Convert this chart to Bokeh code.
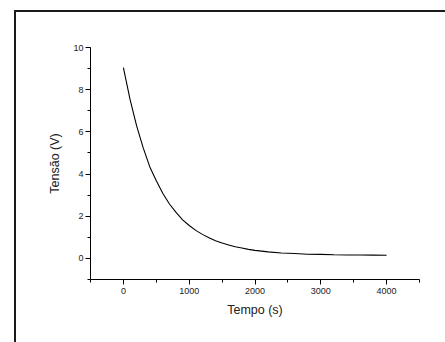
from bokeh.plotting import figure
from bokeh.models import Range1d, SingleIntervalTicker, InlineStyleSheet
from bokeh.embed import file_html
from bokeh.resources import INLINE

# Data
tempo = [0, 100, 200, 300, 400, 500, 600, 700, 800, 900, 1000, 1100, 1200,
         1300, 1400, 1500, 1600, 1700, 1800, 1900, 2000, 2200, 2400, 2600,
         2800, 3000, 3200, 3400, 3600, 3800, 4000]
tensao = [9.05, 7.55, 6.30, 5.25, 4.35, 3.68, 3.08, 2.58, 2.18, 1.83, 1.56,
          1.33, 1.14, 0.98, 0.84, 0.73, 0.64, 0.55, 0.49, 0.43, 0.38, 0.31,
          0.26, 0.23, 0.20, 0.19, 0.17, 0.165, 0.16, 0.155, 0.15]

FONT = "Liberation Sans"

outer_frame = InlineStyleSheet(css="""
:host::after {
  content: "";
  position: absolute;
  left: 14px;
  top: 10px;
  right: 0px;
  bottom: 0px;
  border-left: 2px solid #1a1a1a;
  border-top: 2px solid #1a1a1a;
  pointer-events: none;
  z-index: 10;
}
""")

p = figure(width=445, height=342, output_backend="svg", toolbar_location=None,
           x_range=Range1d(-500, 4500), y_range=Range1d(-1, 10),
           min_border_left=90, min_border_right=26, min_border_top=47,
           min_border_bottom=63)
p.stylesheets = [outer_frame]
p.outline_line_color = None
p.xgrid.visible = False
p.ygrid.visible = False
p.background_fill_color = "white"
p.border_fill_color = "white"

p.line(tempo, tensao, line_color="black", line_width=1.1)

p.xaxis.ticker = SingleIntervalTicker(interval=1000, num_minor_ticks=2)
p.yaxis.ticker = SingleIntervalTicker(interval=2, num_minor_ticks=2)

for ax in (p.xaxis[0], p.yaxis[0]):
    ax.axis_line_color = "black"
    ax.axis_line_width = 1
    ax.major_tick_line_color = "black"
    ax.minor_tick_line_color = "black"
    ax.major_tick_out = 5
    ax.major_tick_in = 0
    ax.minor_tick_out = 3
    ax.minor_tick_in = 0
    ax.major_label_text_font = FONT
    ax.major_label_text_font_size = "9px"
    ax.major_label_text_color = "#222222"
    ax.axis_label_text_font = FONT
    ax.axis_label_text_font_size = "12.5px"
    ax.axis_label_text_font_style = "normal"
    ax.axis_label_text_color = "#222222"

p.xaxis.axis_label = "Tempo (s)"
p.yaxis.axis_label = "Tensão (V)"
p.xaxis.major_label_standoff = 3
p.yaxis.major_label_standoff = 2
p.xaxis.axis_label_standoff = 6
p.yaxis.axis_label_standoff = 8

open("out.html", "w").write(file_html(p, INLINE))
